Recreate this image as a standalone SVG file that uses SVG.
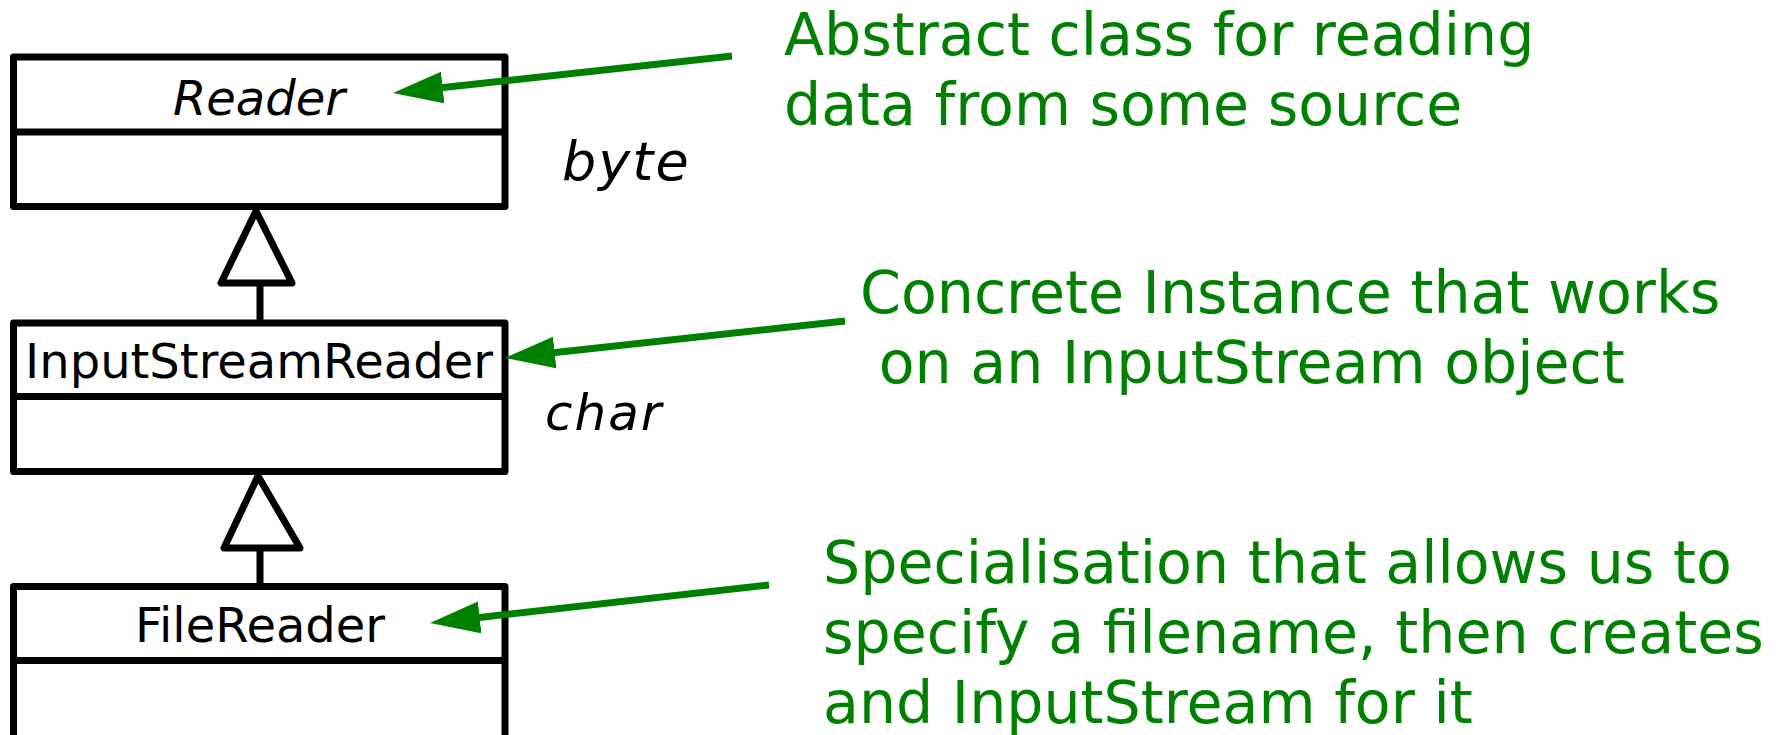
<svg xmlns="http://www.w3.org/2000/svg" width="1779" height="735" viewBox="0 0 1779 735">
  <style>
    .box { fill: #ffffff; stroke: #000000; stroke-width: 7; stroke-linejoin: round; }
    .sep { stroke: #000000; stroke-width: 7; }
    .name { font-family: "DejaVu Sans", "Liberation Sans", sans-serif; font-size: 48px; fill: #000000; text-anchor: middle; }
    .abstract { font-style: italic; }
    .gen { fill: #ffffff; stroke: #000000; stroke-width: 7; stroke-linejoin: round; }
    .stem { stroke: #000000; stroke-width: 7; }
    .note { font-family: "DejaVu Sans", "Liberation Sans", sans-serif; font-size: 58.6px; fill: #008000; }
    .pointer { stroke: #008000; stroke-width: 7; fill: none; marker-end: url(#greenHead); }
    .hand { font-family: "DejaVu Sans", "Liberation Sans", sans-serif; font-style: italic; fill: #000000; }
  </style>
  <defs>
    <marker id="greenHead" markerUnits="userSpaceOnUse" viewBox="0 -17 50 34" markerWidth="50" markerHeight="34" refX="20" refY="0" orient="auto">
      <path d="M0,-16 L50,0 L0,16 Z" fill="#008000"/>
    </marker>
  </defs>

  <rect width="1779" height="735" fill="#ffffff"/>

  <!-- class boxes -->
  <g id="reader">
    <rect class="box" x="13.5" y="57" width="491.5" height="149.5"/>
    <line class="sep" x1="13.5" y1="132" x2="505" y2="132"/>
    <text class="name abstract" x="259" y="115">Reader</text>
  </g>

  <g id="inputStreamReader">
    <rect class="box" x="13.5" y="323" width="491.5" height="148.5"/>
    <line class="sep" x1="13.5" y1="396.5" x2="505" y2="396.5"/>
    <text class="name" x="259" y="378">InputStreamReader</text>
  </g>

  <g id="fileReader">
    <rect class="box" x="13.5" y="586.5" width="491.5" height="180"/>
    <line class="sep" x1="13.5" y1="660.5" x2="505" y2="660.5"/>
    <text class="name" x="260" y="642">FileReader</text>
  </g>

  <!-- handwritten annotations -->
  <g id="byteNote">
    <text class="hand" x="562" y="180" font-size="54" letter-spacing="2">byte</text>
  </g>
  <g id="charNote">
    <text class="hand" x="545" y="430" font-size="50" letter-spacing="2">char</text>
  </g>

  <!-- descriptions -->
  <g id="readerNote">
    <text class="note" x="784" y="55">Abstract class for reading</text>
    <text class="note" x="784" y="125">data from some source</text>
  </g>
  <g id="inputStreamReaderNote">
    <text class="note" x="860" y="313" xml:space="preserve">Concrete Instance that works</text>
    <text class="note" x="860" y="383" xml:space="preserve"> on an InputStream object</text>
  </g>
  <g id="fileReaderNote">
    <text class="note" x="823" y="583">Specialisation that allows us to</text>
    <text class="note" x="823" y="653">specify a filename, then creates</text>
    <text class="note" x="823" y="723">and InputStream for it</text>
  </g>

  <!-- connectors: generalisation and pointers -->
  <g id="connectors">
    <line class="stem" x1="260" y1="283" x2="260" y2="323"/>
    <polygon class="gen" points="256,211 221,283 292,283"/>
    <line class="stem" x1="260" y1="548" x2="260" y2="586.5"/>
    <polygon class="gen" points="258,476 224,548 300,548"/>

    <line class="pointer" x1="732" y1="56" x2="422.8" y2="89.7"/>
    <line class="pointer" x1="845" y1="321" x2="534.8" y2="354.7"/>
    <line class="pointer" x1="769" y1="585" x2="459.8" y2="619.7"/>
  </g>
</svg>
